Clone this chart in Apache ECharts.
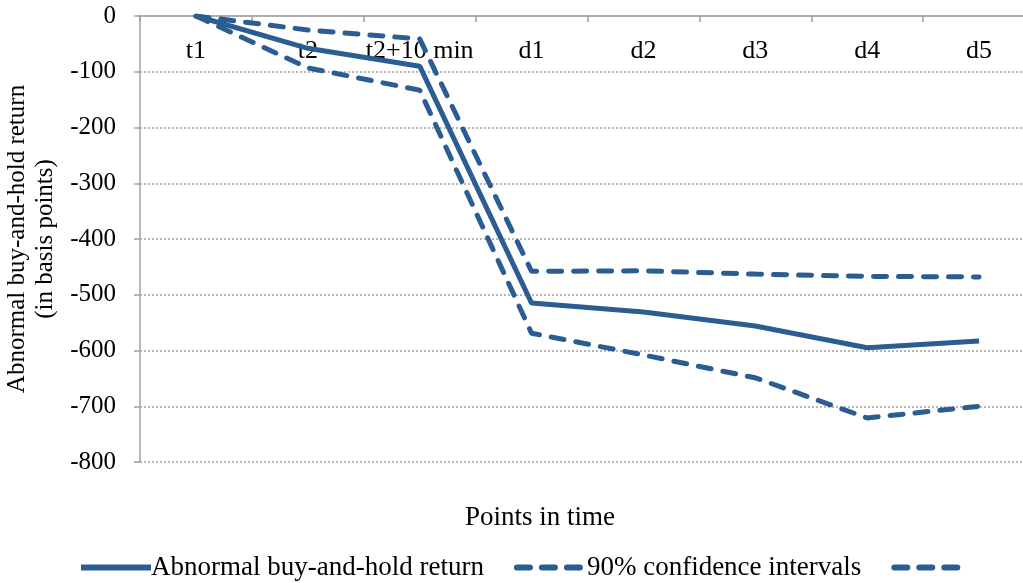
<!DOCTYPE html>
<html>
<head>
<meta charset="utf-8">
<script src="https://cdn.jsdelivr.net/npm/echarts@6/dist/echarts.min.js"></script>
<style>html,body{margin:0;padding:0;background:#fff;}#c{width:1023px;height:583px;}</style>
</head>
<body>
<div id="c"></div>
<script>
var categories = ['t1', 't2', 't2+10 min', 'd1', 'd2', 'd3', 'd4', 'd5'];
var abnormalReturn = [0, -58, -90, -515, -531, -556, -595, -583];
var upperCI = [0, -25, -41, -458, -457, -463, -467, -468];
var lowerCI = [0, -93, -133, -569, -608, -649, -721, -700];
var yTicks = { min: -800, max: 0, interval: 100 };

var font = 'Liberation Serif';
var blue = '#2B5D92';
var fs = 25;
var chart = echarts.init(document.getElementById('c'));
chart.setOption({
  animation: false,
  textStyle: { fontFamily: font, color: '#000' },
  grid: { left: 140, right: -12, top: 16, bottom: 121, containLabel: false, outerBoundsMode: 'none' },
  xAxis: {
    type: 'category',
    data: categories,
    position: 'top',
    boundaryGap: true,
    axisLine: { show: true, lineStyle: { color: '#A0A0A0', width: 1.5 } },
    axisTick: { show: true, inside: true, length: 6, interval: 0, lineStyle: { color: '#A0A0A0', width: 1.5 } },
    axisLabel: { inside: true, interval: 0, margin: 22, color: '#000', fontFamily: font, fontSize: 26 },
    splitLine: { show: false }
  },
  yAxis: {
    type: 'value',
    min: yTicks.min, max: yTicks.max, interval: yTicks.interval,
    name: 'Abnormal buy-and-hold return\n(in basis points)',
    nameLocation: 'middle',
    nameGap: 72,
    nameRotate: 90,
    nameTextStyle: { color: '#000', fontFamily: font, fontSize: fs, lineHeight: 28 },
    axisLine: { show: true, lineStyle: { color: '#A0A0A0', width: 1.5 } },
    axisTick: { show: true, length: 6, lineStyle: { color: '#A0A0A0', width: 1.5 } },
    axisLabel: { margin: 24, color: '#000', fontFamily: font, fontSize: fs },
    splitLine: { show: true, lineStyle: { color: '#A0A0A0', width: 1.5, type: [2, 2] } }
  },
  legend: {
    top: 554,
    left: 78,
    padding: 0,
    itemWidth: 70,
    itemHeight: 8,
    itemGap: 30,
    itemStyle: { opacity: 0 },
    lineStyle: { width: 6 },
    textStyle: { color: '#000', fontFamily: font, fontSize: 27, padding: [0, 0, 0, -5] },
    data: ['Abnormal buy-and-hold return', '90% confidence intervals', ' ']
  },
  graphic: [{
    type: 'text', x: 540, y: 518,
    style: { text: 'Points in time', fill: '#000', font: '27px "Liberation Serif"', align: 'center', verticalAlign: 'middle' }
  }],
  series: [
    { name: 'Abnormal buy-and-hold return', type: 'line', data: abnormalReturn, symbol: 'none',
      lineStyle: { color: blue, width: 5 }, itemStyle: { color: blue } },
    { name: '90% confidence intervals', type: 'line', data: upperCI, symbol: 'none',
      lineStyle: { color: blue, width: 5, type: [13, 12], cap: 'round' }, itemStyle: { color: blue } },
    { name: ' ', type: 'line', data: lowerCI, symbol: 'none',
      lineStyle: { color: blue, width: 5, type: [13, 12], cap: 'round' }, itemStyle: { color: blue } }
  ]
});
</script>
</body>
</html>
